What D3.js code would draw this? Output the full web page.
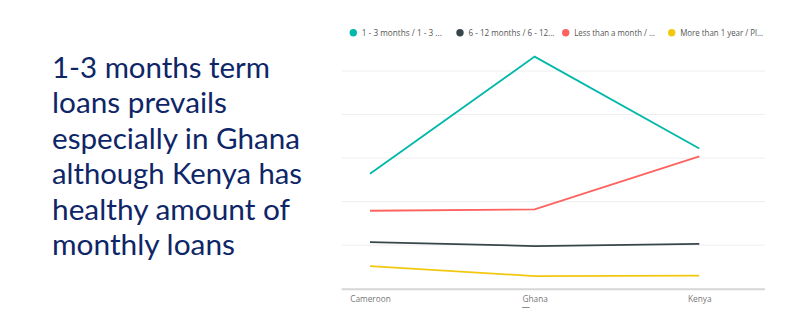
<!DOCTYPE html>
<html><head><meta charset="utf-8">
<script src="https://cdn.jsdelivr.net/npm/d3@7"></script>
<style>body{margin:0;background:#fff}svg{display:block}</style>
</head><body>
<svg id="c" width="808" height="324"></svg>
<script>
const categories = ["Cameroon", "Ghana", "Kenya"];
const seriesNames = ["1 - 3 months / 1 - 3 ...", "6 - 12 months / 6 - 12...", "Less than a month / ...", "More than 1 year / Pl..."];
const oneToThree = [26.4, 53.3, 32.2];
const sixToTwelve = [10.7, 9.8, 10.3];
const lessThanMonth = [17.9, 18.2, 30.4];
const moreThanYear = [5.2, 2.9, 3.0];
const yTicks = [0, 10, 20, 30, 40, 50];
const colors = ["#01B8AA", "#374649", "#FD625E", "#F2C80F"];
const titleLines = ["1-3 months term", "loans prevails", "especially in Ghana", "although Kenya has", "healthy amount of", "monthly loans"];
const titleWidths = [218, 175, 248, 250, 238, 183];
const legendWidths = [80, 86, 81, 83];

const series = [oneToThree, sixToTwelve, lessThanMonth, moreThanYear];
const svg = d3.select("#c");

// title
const tg = svg.append("g");
titleLines.forEach((t, i) => {
  tg.append("text").attr("x", 52).attr("y", 77.5 + i * 35.5)
    .attr("font-family", "Lato, 'Open Sans', sans-serif").attr("font-size", 28.5)
    .attr("fill", "#0E2667")
    .attr("textLength", titleWidths[i]).attr("lengthAdjust", "spacingAndGlyphs")
    .text(t);
});

const x = d3.scalePoint().domain(categories).range([370, 699.3]);
const y = d3.scaleLinear().domain([0, 50]).range([288.7, 71]);
const gridX0 = 341.7, gridX1 = 765;

// gridlines
svg.append("g").selectAll("line").data(yTicks.slice(1)).join("line")
  .attr("x1", gridX0).attr("x2", gridX1)
  .attr("y1", d => y(d)).attr("y2", d => y(d))
  .attr("stroke", "#eeeeee").attr("stroke-width", 1);

// baseline
svg.append("line").attr("x1", gridX0).attr("x2", gridX1)
  .attr("y1", y(0) + 0.5).attr("y2", y(0) + 0.5)
  .attr("stroke", "#d6d6d6").attr("stroke-width", 2);

// x axis
const xAxis = d3.axisBottom(x).tickSize(0).tickPadding(0);
const ax = svg.append("g").attr("transform", `translate(0,${296})`).call(xAxis);
ax.select(".domain").remove();
ax.selectAll("text").attr("font-family", "'Open Sans', 'Noto Sans', sans-serif")
  .attr("font-size", 8.3).attr("fill", "#777").attr("dy", "0.71em");
// focus underline under Ghana
svg.append("line").attr("x1", x("Ghana") - 12.5).attr("x2", x("Ghana") - 5)
  .attr("y1", 307.5).attr("y2", 307.5).attr("stroke", "#888").attr("stroke-width", 1);

// lines
const line = d3.line().x((d, i) => x(categories[i])).y(d => y(d));
svg.append("g").selectAll("path").data(series).join("path")
  .attr("d", d => line(d)).attr("fill", "none")
  .attr("stroke", (d, i) => colors[i]).attr("stroke-width", 1.8)
  .attr("stroke-linejoin", "miter");

// legend
const legendX = [353.3, 460, 565.7, 671.7];
const lg = svg.append("g");
seriesNames.forEach((n, i) => {
  lg.append("circle").attr("cx", legendX[i]).attr("cy", 32.7).attr("r", 3.7).attr("fill", colors[i]);
  lg.append("text").attr("x", legendX[i] + 8.5).attr("y", 35.6)
    .attr("font-family", "'Open Sans', 'Noto Sans', sans-serif").attr("font-size", 8.3)
    .attr("fill", "#555")
    .attr("textLength", legendWidths[i]).attr("lengthAdjust", "spacingAndGlyphs")
    .text(n);
});
</script>
</body></html>
